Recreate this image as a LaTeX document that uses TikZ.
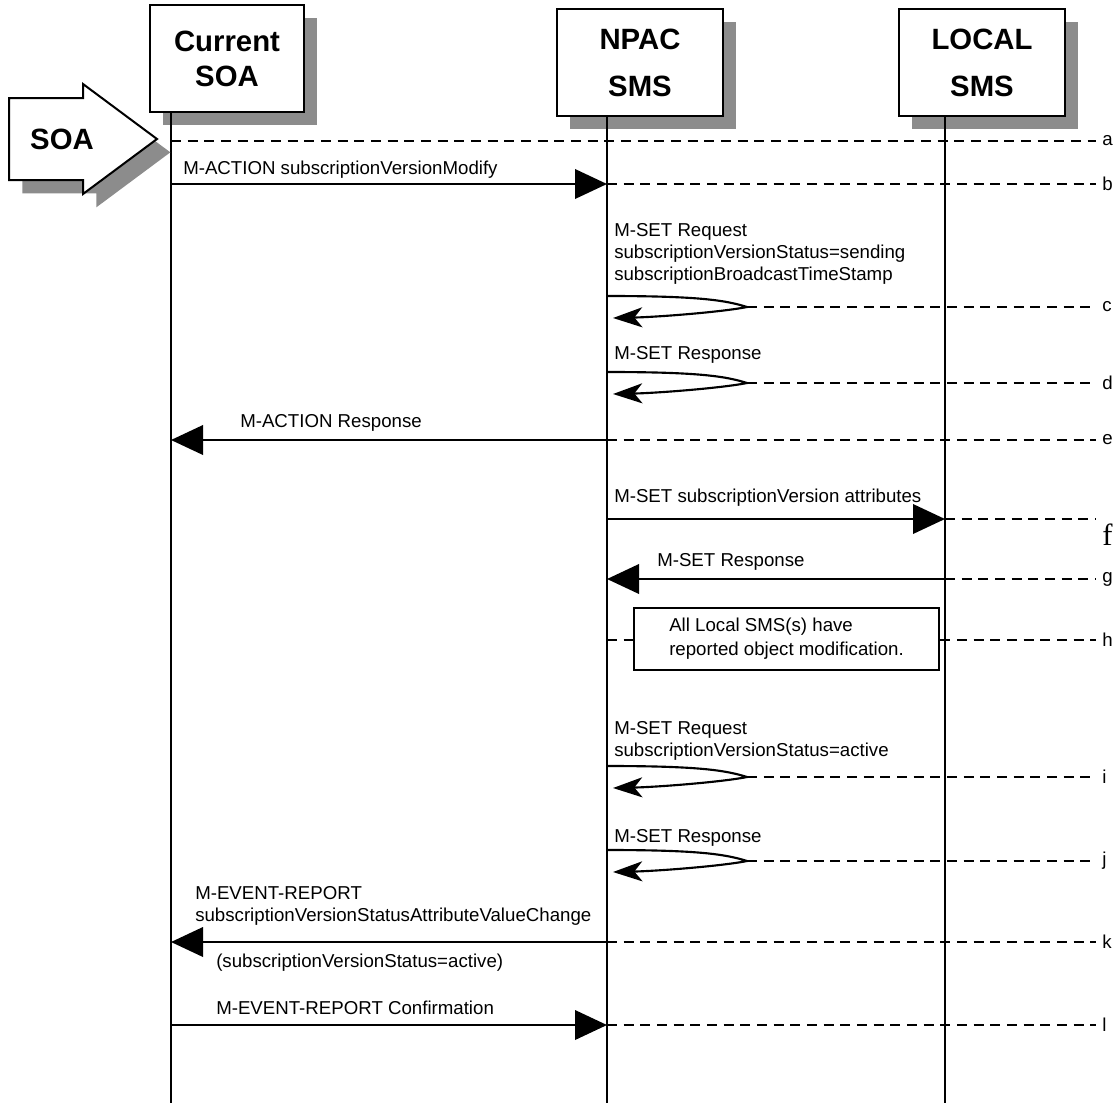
\documentclass[tikz,border=0pt]{standalone}
\usepackage{fontspec}
\setmainfont{Liberation Sans}
\newfontfamily\romanf{Liberation Serif}
\usetikzlibrary{arrows.meta,shadows}

\begin{document}
\begin{tikzpicture}[x=0.75pt, y=-0.75pt,
          party/.style={draw, line width=1.5pt, fill=white, minimum height=80.25pt,
              align=center, font=\fontsize{22}{26.25}\selectfont\bfseries,
              drop shadow={shadow xshift=10pt, shadow yshift=-10pt, fill=black!45, opacity=1}},
          life/.style={line width=1.5pt},
          guide/.style={line width=1.5pt, dash pattern=on 7.5pt off 5pt},
          msg/.style={line width=2pt, -{Triangle[length=24pt,width=22pt]}},
          selfloop/.style={line width=1.6pt, -{Stealth[length=22pt,width=15pt,inset=6pt]}},
          txt/.style={anchor=west, inner sep=0pt, align=left, font=\fontsize{14}{16.5}\selectfont},
          tag/.style={anchor=west, inner sep=4.5pt, font=\fontsize{14}{16.5}\selectfont},
          note/.style={draw, line width=1.5pt, fill=white, minimum width=228.75pt,
              minimum height=46.5pt, align=left, font=\fontsize{14}{18}\selectfont}
        ]
        \useasboundingbox (0,0) rectangle (1119,1103);
        \node[party, minimum width=115.5pt] (soa) at (227,58.5) {Current\\SOA};
        \node[party, minimum width=124.5pt, font=\fontsize{22}{35.25}\selectfont\bfseries] (npac) at (640,62.5) {NPAC\\SMS};
        \node[party, minimum width=124.5pt, font=\fontsize{22}{35.25}\selectfont\bfseries] (lsms) at (982,62.5) {LOCAL\\SMS};
        \coordinate (soaline)  at (171,112);
        \coordinate (npacline) at (607,116);
        \coordinate (lsmsline) at (945,116);
        \coordinate (bottom)   at (0,1103);
        \draw[life] (soaline)  -- (soaline |- bottom);
        \draw[life] (npacline) -- (npacline |- bottom);
        \draw[life] (lsmsline) -- (lsmsline |- bottom);

        \draw[line width=1.5pt, fill=white,
              drop shadow={shadow xshift=10pt, shadow yshift=-10pt, fill=black!45, opacity=1}]
            (9,98) -- (83,98) -- (83,84) -- (157,139) -- (83,194) -- (83,180) -- (9,180) -- cycle;
        \node[font=\fontsize{22}{22}\selectfont\bfseries] (soaarrow) at (62,139) {SOA};

        \node[tag] (la) at (1096,141) {a};
        \node[tag] (lb) at (1096,184) {b};
        \node[tag] (lc) at (1096,307) {c};
        \node[tag] (ld) at (1096,383) {d};
        \node[tag] (le) at (1096,440) {e};
        \coordinate (rowf) at (1096,519);
        \node[anchor=base west, inner sep=0pt, font=\romanf\fontsize{23}{23}\selectfont] (lf) at (1102,545) {f};
        \node[tag] (lg) at (1096,579) {g};
        \node[tag] (lh) at (1096,640) {h};
        \node[tag] (li) at (1096,777) {i};
        \node[tag] (lj) at (1096,861) {j};
        \node[tag] (lk) at (1096,942) {k};
        \node[tag] (ll) at (1096,1025) {l};

        \draw[guide] (soaline |- la) -- (la);
        \draw[guide] (npacline |- lb) -- (lb);
        \draw[guide] (npacline |- lc) ++(140,0) -- (lc);
        \draw[guide] (npacline |- ld) ++(140,0) -- (ld);
        \draw[guide] (npacline |- le) -- (le);
        \draw[guide] (lsmsline |- rowf) -- (rowf);
        \draw[guide] (lsmsline |- lg) -- (lg);
        \draw[guide] (npacline |- lh) -- (lh);
        \draw[guide] (npacline |- li) ++(140,0) -- (li);
        \draw[guide] (npacline |- lj) ++(140,0) -- (lj);
        \draw[guide] (npacline |- lk) -- (lk);
        \draw[guide] (npacline |- ll) -- (ll);

        \draw[msg] (soaline |- lb)   -- (npacline |- lb);
        \draw[msg] (npacline |- le)  -- (soaline |- le);
        \draw[msg] (npacline |- rowf) -- (lsmsline |- rowf);
        \draw[msg] (lsmsline |- lg)  -- (npacline |- lg);
        \draw[msg] (npacline |- lk)  -- (soaline |- lk);
        \draw[msg] (soaline |- ll)   -- (npacline |- ll);

        \draw[selfloop] (npacline |- lc) ++(0,-11) .. controls +(90,0) and +(-22,-7) .. ++(140,11)
            .. controls +(-25,5) and +(45,-1) .. ++(-134,11);
        \draw[selfloop] (npacline |- ld) ++(0,-11) .. controls +(90,0) and +(-22,-7) .. ++(140,11)
            .. controls +(-25,5) and +(45,-1) .. ++(-134,11);
        \draw[selfloop] (npacline |- li) ++(0,-11) .. controls +(90,0) and +(-22,-7) .. ++(140,11)
            .. controls +(-25,5) and +(45,-1) .. ++(-134,11);
        \draw[selfloop] (npacline |- lj) ++(0,-11) .. controls +(90,0) and +(-22,-7) .. ++(140,11)
            .. controls +(-25,5) and +(45,-1) .. ++(-134,11);

        \node[txt] (tb)  at (183,170) {M-ACTION subscriptionVersionModify};
        \node[txt] (tc)  at (614,254) {M-SET Request\\subscriptionVersionStatus=sending\\subscriptionBroadcastTimeStamp};
        \node[txt] (td)  at (614,355) {M-SET Response};
        \node[txt] (te)  at (240,423) {M-ACTION Response};
        \node[txt] (tf)  at (614,498) {M-SET subscriptionVersion attributes};
        \node[txt] (tg)  at (657,562) {M-SET Response};
        \node[note] (nh) at (786.5,639) {All Local SMS(s) have\\reported object modification.};
        \node[txt] (ti)  at (614,741) {M-SET Request\\subscriptionVersionStatus=active};
        \node[txt] (tj)  at (614,838) {M-SET Response};
        \node[txt] (tk)  at (195,906) {M-EVENT-REPORT\\subscriptionVersionStatusAttributeValueChange};
        \node[txt] (tk2) at (216,963) {(subscriptionVersionStatus=active)};
        \node[txt] (tl)  at (216,1008) {M-EVENT-REPORT Confirmation};
      \end{tikzpicture}
\end{document}
